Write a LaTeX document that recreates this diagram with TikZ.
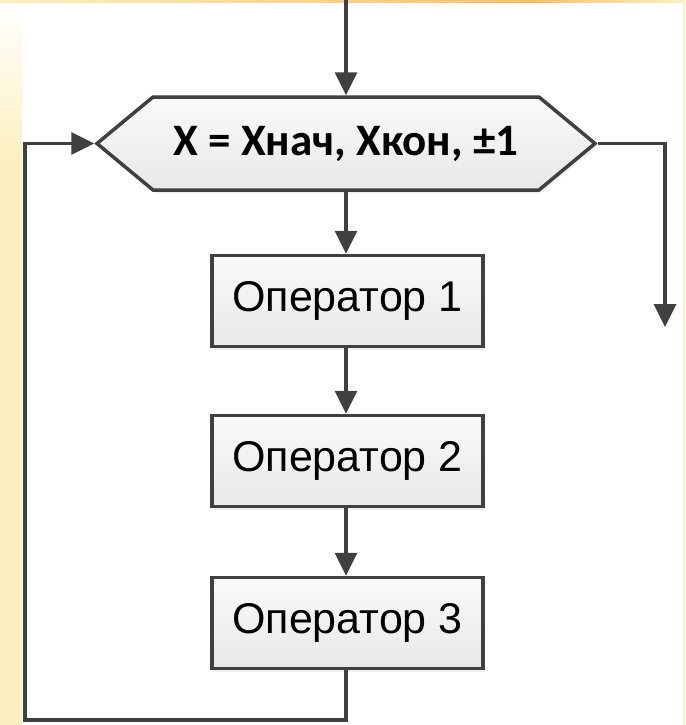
\documentclass[tikz,border=0pt]{standalone}
\usepackage{fontspec}
\setmainfont{Liberation Sans}
\newfontfamily\labelfont{Carlito}
\usetikzlibrary{arrows.meta,shapes.symbols,shadows}
\definecolor{lineclr}{HTML}{404040}
\definecolor{glowyellow}{HTML}{FDF0C0}
\definecolor{gloworange}{HTML}{F5BE6E}
\tikzset{
  flowline/.style={draw=lineclr, line width=3.5pt},
  flowarrow/.style={flowline, -{Triangle[width=22pt,length=23pt]}},
  blockshape/.style={draw=lineclr, line width=3.5pt, top color=white!98!black,
    bottom color=white!91!black,
    drop shadow={opacity=0.12, shadow xshift=2pt, shadow yshift=-3pt}},
  opbox/.style={blockshape, rectangle, minimum width=271pt, minimum height=91pt,
    inner sep=0pt, font=\fontsize{43}{48}\selectfont},
  loopbox/.style={blockshape, signal, signal to=west and east,
    signal pointer angle=79.4, minimum width=498pt, minimum height=93pt,
    inner sep=0pt, font=\labelfont\bfseries\fontsize{45}{52}\selectfont}
}
\begin{document}
\begin{tikzpicture}[x=1pt, y=-1pt]
  % page and soft glow along the edges
  \fill[white] (0,0) rectangle (685,725);
  \useasboundingbox (0,0) rectangle (685,725);
  \shade[top color=white, bottom color=glowyellow] (0,0) rectangle (22,160);
  \fill[glowyellow] (0,160) rectangle (22,725);
  \shade[left color=glowyellow, right color=gloworange] (0,0) rectangle (530,3);
  \shade[left color=gloworange, right color=glowyellow] (530,0) rectangle (685,3);
  \fill[glowyellow] (683,0) rectangle (685,725);

  % loop header and body
  \node[loopbox] (loop) at (346,143.5) {X = Xнач, Xкон, ±1};
  \node[opbox] (op1) at (347.5,301) {Оператор 1};
  \node[opbox] (op2) at (347.5,461) {Оператор 2};
  \node[opbox] (op3) at (347.5,623) {Оператор 3};

  \coordinate (entry) at (346,0);
  \coordinate (exit) at (665,327);
  \coordinate (back) at (25,720);

  % connectors
  \draw[flowarrow] (entry) -- (loop.north);
  \draw[flowarrow] (loop.south) -- (op1.north -| loop.south);
  \draw[flowarrow] (op1.south -| loop.south) -- (op2.north -| loop.south);
  \draw[flowarrow] (op2.south -| loop.south) -- (op3.north -| loop.south);
  \draw[flowarrow, line join=miter] (loop.east) -| (exit);
  \draw[flowarrow, line join=miter] (op3.south -| loop.south) |- (back) |- (loop.west);
\end{tikzpicture}
\end{document}
